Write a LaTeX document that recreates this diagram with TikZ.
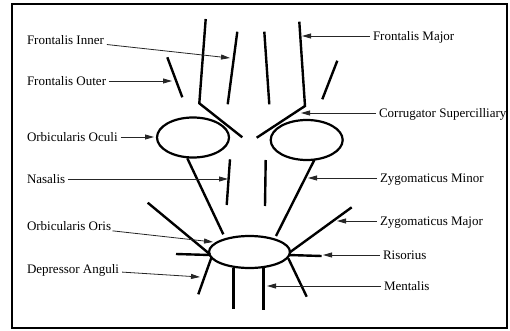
\documentclass[tikz,border=0pt]{standalone}
\usepackage{fontspec}
\setmainfont{Liberation Serif}
\usepackage{tikz}
\usetikzlibrary{arrows.meta}
\tikzset{
  muscle/.style={line width=2.4pt},
  feature/.style={line width=2.2pt},
  lbl/.style={anchor=west, inner sep=0pt, outer sep=0pt, text height=9pt, text depth=0pt, font=\fontsize{13}{15}\selectfont},
  pointer/.style={line width=0.8pt, black!85, shorten <=3pt, -{Triangle[length=9pt,width=5pt]}},
}

\begin{document}
\begin{tikzpicture}[x=1pt, y=-1pt]
  \useasboundingbox (0,0) rectangle (510,331);
  \draw[line width=1.3pt] (12,4) rectangle (507,328);
  % forehead
  \draw[muscle] (205.7,19) -- (199.3,103.3) -- (242.3,137.3);
  \draw[muscle] (299.3,21.7) -- (305,106) -- (256.7,137.7);
  \draw[muscle] (237.3,31.7) -- (227.7,104.3);
  \draw[muscle] (264.3,31.7) -- (269.3,104.3);
  \draw[muscle] (167.3,57.3) -- (182.3,97.3);
  \draw[muscle] (337.3,60.7) -- (322.3,99.3);
  % eyes and nose
  \draw[feature] (193,137.5) ellipse [x radius=36, y radius=20];
  \draw[feature] (306.7,140) ellipse [x radius=36, y radius=20];
  \draw[muscle] (230,159.3) -- (226.7,205);
  \draw[muscle] (265.7,160) -- (265,206);
  \draw[muscle] (187.3,158.3) -- (223.3,234.3);
  \draw[muscle] (314.3,160) -- (276,236);
  % mouth
  \draw[feature] (249.5,252) ellipse [x radius=40.5, y radius=16];
  \draw[muscle] (147.7,202.7) -- (210,254.3);
  \draw[muscle] (176,254) -- (210,255);
  \draw[muscle] (211.7,256.7) -- (198.3,294.3);
  \draw[muscle] (233.3,268.3) -- (233.3,309.3);
  \draw[muscle] (263.3,268.3) -- (263.3,310);
  \draw[muscle] (288.3,258.3) -- (306.7,296.7);
  \draw[muscle] (288.3,255) -- (321.7,256);
  \draw[muscle] (289.3,252.7) -- (351.7,207.3);

  \node[lbl] (finner) at (27,40) {Frontalis Inner};
  \node[lbl] (fouter) at (27,81) {Frontalis Outer};
  \node[lbl] (oculi) at (27,137) {Orbicularis Oculi};
  \node[lbl] (nasalis) at (27,179) {Nasalis};
  \node[lbl] (oris) at (27,226) {Orbicularis Oris};
  \node[lbl] (depressor) at (27,269) {Depressor Anguli};
  \node[lbl] (fmajor) at (373,36) {Frontalis Major};
  \node[lbl] (corrugator) at (379,113) {Corrugator Supercilliary};
  \node[lbl] (zminor) at (380,178) {Zygomaticus Minor};
  \node[lbl] (zmajor) at (380,221) {Zygomaticus Major};
  \node[lbl] (risorius) at (383,255) {Risorius};
  \node[lbl] (mentalis) at (384,286) {Mentalis};

  \coordinate (finner-tip) at (230,58);
  \coordinate (fouter-tip) at (172,81);
  \coordinate (oculi-tip) at (154,137);
  \coordinate (nasalis-tip) at (228,179);
  \coordinate (oris-tip) at (213,242);
  \coordinate (depressor-tip) at (200,277);
  \coordinate (fmajor-tip) at (302,36);
  \coordinate (corrugator-tip) at (301,113);
  \coordinate (zminor-tip) at (308,178);
  \coordinate (zmajor-tip) at (337,221);
  \coordinate (risorius-tip) at (323,255);
  \coordinate (mentalis-tip) at (267,286);

  \draw[pointer] (finner) -- (finner-tip);
  \draw[pointer] (fouter) -- (fouter-tip);
  \draw[pointer] (oculi) -- (oculi-tip);
  \draw[pointer] (nasalis) -- (nasalis-tip);
  \draw[pointer] (oris) -- (oris-tip);
  \draw[pointer] (depressor) -- (depressor-tip);
  \draw[pointer] (fmajor) -- (fmajor-tip);
  \draw[pointer] (corrugator) -- (corrugator-tip);
  \draw[pointer] (zminor) -- (zminor-tip);
  \draw[pointer] (zmajor) -- (zmajor-tip);
  \draw[pointer] (risorius) -- (risorius-tip);
  \draw[pointer] (mentalis) -- (mentalis-tip);
\end{tikzpicture}
\end{document}
